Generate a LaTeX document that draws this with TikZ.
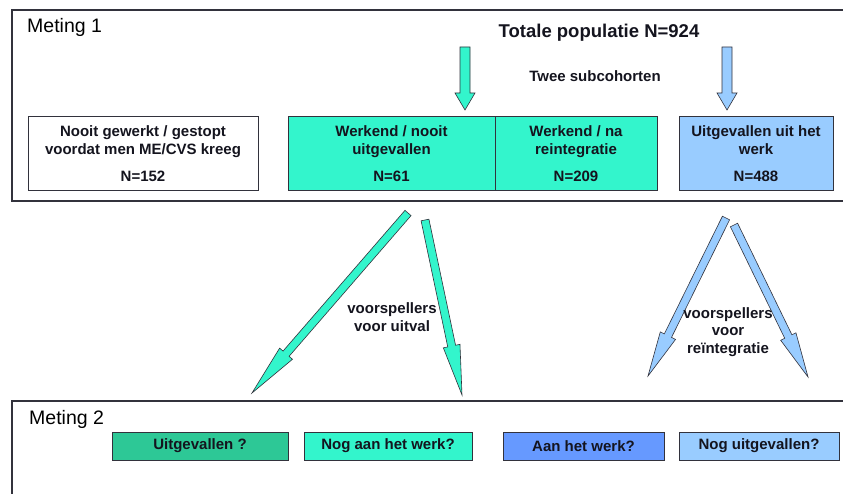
\documentclass[tikz,border=0pt]{standalone}
\usepackage{fontspec}
\setmainfont{Liberation Sans}
\usetikzlibrary{calc}
\definecolor{aqua}{RGB}{51,245,204}
\definecolor{skyblue}{RGB}{153,204,255}
\definecolor{teal2}{RGB}{45,200,150}
\definecolor{midblue}{RGB}{102,153,255}
\definecolor{ink}{RGB}{20,20,30}
\definecolor{edge}{RGB}{50,50,60}

% block arrow: #1 tail, #2 tip, #3 half shaft width, #4 half head width, #5 head length, #6 style
\newcommand\bkarrow[6]{%
  \coordinate (hb) at ($(#2)!#5!(#1)$);
  \draw[#6] ($(#1)!#3!90:(#2)$) -- ($(hb)!#3!90:(#2)$) -- ($(hb)!#4!90:(#2)$)
    -- (#2) -- ($(hb)!#4!-90:(#2)$) -- ($(hb)!#3!-90:(#2)$) -- ($(#1)!#3!-90:(#2)$) -- cycle;
}

\begin{document}
\begin{tikzpicture}[x=1pt,y=-1pt,
  frame/.style={draw=edge,line width=1.4pt},
  box/.style={draw=edge,line width=1pt,align=center,text=ink,inner sep=0pt,
    font=\fontsize{15}{18}\selectfont\bfseries},
  smallbox/.style={box,minimum height=28pt},
  title/.style={text=black,font=\fontsize{19.5}{23}\selectfont,inner sep=0pt},
  lbl/.style={text=ink,align=center,inner sep=0pt,font=\fontsize{15}{17.5}\selectfont\bfseries},
  greenarrow/.style={fill=aqua,draw=edge,line width=0.6pt,line join=miter},
  bluearrow/.style={fill=skyblue,draw=edge,line width=0.6pt,line join=miter}]
\useasboundingbox (0,0) rectangle (843,494);
\clip (0,0) rectangle (843,494);
\fill[white] (0,0) rectangle (843,494);

% measurement frames
\draw[frame] (12,10) rectangle (870,201);
\draw[frame] (12,401) rectangle (870,520);

\node[title,anchor=base west] (m1) at (27,33) {Meting 1};
\node[title,anchor=base west] (m2) at (29,424) {Meting 2};

\node[lbl,anchor=base,font=\fontsize{18.5}{21}\selectfont\bfseries] (tot) at (599,38) {Totale populatie N=924};
\node[lbl,anchor=base] (twee) at (595,82) {Twee subcohorten};

% first measurement groups
\node[box,minimum width=230pt,minimum height=74pt] (nooit) at (143,154)
  {Nooit gewerkt / gestopt\\voordat men ME/CVS kreeg\\[9pt]N=152};
\node[box,fill=aqua,minimum width=207pt,minimum height=74pt] (wn) at (391.5,154)
  {Werkend / nooit\\uitgevallen\\[9pt]N=61};
\node[box,fill=aqua,minimum width=162pt,minimum height=74pt] (wr) at (576,154)
  {Werkend / na\\reintegratie\\[9pt]N=209};
\node[box,fill=skyblue,minimum width=154pt,minimum height=74pt] (uit) at (756,154)
  {Uitgevallen uit het\\werk\\[9pt]N=488};

% arrows into the subcohorts
\coordinate (ga) at (465,47);
\coordinate (gb) at (465,110);
\coordinate (ba) at (727,47);
\coordinate (bb) at (727,110);
\bkarrow{ga}{gb}{5pt}{10pt}{17pt}{greenarrow}
\bkarrow{ba}{bb}{5pt}{10pt}{17pt}{bluearrow}

% prediction arrows
\coordinate (g1t) at (408,213);
\coordinate (g1p) at (252,393);
\coordinate (g2t) at (425,220);
\coordinate (g2p) at (462,395);
\coordinate (b1t) at (726,218);
\coordinate (b1p) at (648,376);
\coordinate (b2t) at (734,225);
\coordinate (b2p) at (808,377);
\bkarrow{g1t}{g1p}{4pt}{8.5pt}{52pt}{greenarrow}
\bkarrow{g2t}{g2p}{4pt}{8.5pt}{50pt}{greenarrow}
\bkarrow{b1t}{b1p}{4pt}{8.5pt}{45pt}{bluearrow}
\bkarrow{b2t}{b2p}{4pt}{8.5pt}{45pt}{bluearrow}

\node[lbl] (vu) at (392,317) {voorspellers\\voor uitval};
\node[lbl] (vr) at (728,332) {voorspellers\\voor\\reïntegratie};

% second measurement outcomes
\node[smallbox,fill=teal2,minimum width=176pt] (o1) at (200,446) {Uitgevallen ?};
\node[smallbox,fill=aqua,minimum width=168pt] (o2) at (388,446) {Nog aan het werk?};
\node[smallbox,fill=midblue,minimum width=161pt] (o3) at (583.5,446) {Aan het werk?};
\node[smallbox,fill=skyblue,minimum width=160pt] (o4) at (759,446) {Nog uitgevallen?};
\end{tikzpicture}
\end{document}
